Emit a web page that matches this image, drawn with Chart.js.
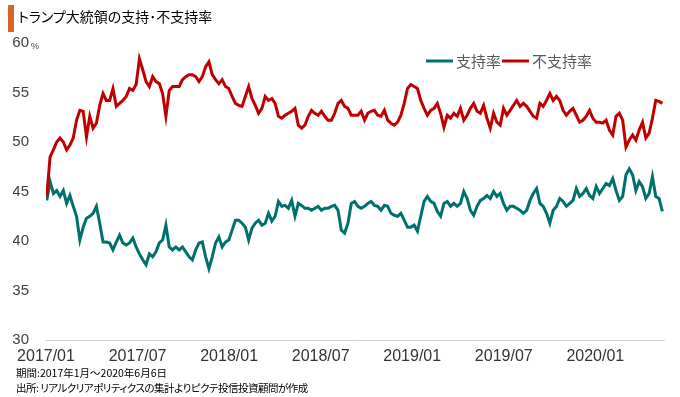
<!DOCTYPE html>
<html>
<head>
<meta charset="utf-8">
<script src="https://cdn.jsdelivr.net/npm/chart.js@4.4.1/dist/chart.umd.min.js"></script>
<style>
    body { margin: 0; background: #fff; }
    #wrap { position: relative; width: 680px; height: 397px; overflow: hidden; }
    #bar { position: absolute; left: 8px; top: 5px; width: 6px; height: 27px; background: #D9622B; }
    #title { position: absolute; left: 18px; top: 6px; line-height: 21px; font-size: 14px; color: #000;
             font-family: "Noto Sans CJK JP"; font-feature-settings: "palt"; white-space: nowrap; }
    .note { position: absolute; left: 16px; line-height: 14px; font-size: 10.5px; color: #000;
            font-family: "Noto Sans CJK JP"; font-feature-settings: "palt"; white-space: nowrap; }
    canvas { position: absolute; left: 0; top: 0; }
</style>
</head>
<body>
<div id="wrap">
    <canvas id="pollChart" width="680" height="397"></canvas>
    <div id="bar"></div>
    <div id="title">トランプ大統領の支持･不支持率</div>
    <div class="note" style="top:366px">期間:2017年1月～2020年6月6日</div>
    <div class="note" style="top:381px; letter-spacing:-0.5px">出所: リアルクリアポリティクスの集計よりピクテ投信投資顧問が作成</div>
</div>
<script>
// RCP average, read off the chart roughly once a week (2017/01 - 2020/06)
const seriesNames = ['支持率', '不支持率'];
const seriesColors = ['#00706C', '#C00000'];

const approve = [
    44.1, 46.0, 44.8, 45.1, 44.5, 45.1, 43.8, 44.6, 43.5, 42.5,
    40.1, 41.4, 42.3, 42.5, 42.8, 43.5, 41.8, 39.9, 39.9, 39.8,
    39.1, 39.9, 40.6, 39.8, 39.6, 39.8, 40.3, 39.4, 38.7, 38.1,
    37.6, 38.7, 38.4, 38.9, 39.8, 40.1, 41.6, 39.4, 39.1, 39.4,
    39.1, 39.4, 38.9, 38.4, 38.1, 39.1, 39.8,
    39.9, 38.4, 37.2, 38.4, 39.8, 40.4, 39.4, 39.9, 40.1, 41.1,
    42.1, 42.1, 41.8, 41.4, 40.1, 41.3, 41.8, 42.1, 41.6, 41.8,
    42.8, 42.0, 42.5, 44.0, 43.5, 43.6, 43.3, 44.1, 42.5, 43.8,
    43.6, 43.3, 43.3, 43.1, 43.3, 43.5, 43.1, 43.3, 43.3, 43.5,
    43.6, 43.1, 41.1, 40.8, 41.8, 43.8, 44.0,
    43.5, 43.3, 43.5, 43.8, 44.0, 43.6, 43.5, 43.1, 43.6, 43.5,
    42.8, 42.6, 42.5, 42.8, 42.1, 41.4, 41.4, 41.6, 41.0, 42.5,
    44.0, 44.5, 44.0, 43.8, 43.0, 42.5, 43.8, 44.0, 43.5, 43.8,
    43.5, 43.8, 45.0, 44.3, 43.1, 42.6, 43.5, 44.1, 44.3, 44.6,
    44.3, 45.0, 44.5, 44.8, 43.8, 43.1, 43.5,
    43.5, 43.3, 43.1, 42.8, 43.1, 44.1, 44.8, 45.3, 43.8, 43.5,
    42.8, 41.8, 43.1, 43.5, 44.3, 44.0, 43.5, 43.8, 44.1, 45.3,
    44.5, 44.8, 45.3, 44.6, 44.3, 45.5, 44.8, 45.3, 45.8, 45.6,
    46.3, 45.1, 44.1, 44.5, 46.7, 47.3, 46.7, 45.1, 46.0, 45.5,
    44.3, 44.8, 46.5, 44.5, 44.3, 43.0
];

const disapprove = [
    44.5, 48.5, 49.2, 50.0, 50.4, 50.0, 49.2, 49.7, 50.4, 52.2,
    53.2, 53.1, 50.5, 52.6, 51.4, 51.9, 53.7, 54.9, 54.2, 54.2,
    55.4, 53.6, 53.9, 54.2, 54.6, 55.4, 55.2, 55.8, 58.4, 57.3,
    56.1, 55.6, 56.6, 56.1, 55.9, 54.9, 52.6, 55.2, 55.6, 55.6,
    55.6, 56.3, 56.6, 56.8, 56.8, 56.6, 56.1,
    56.6, 57.6, 58.1, 56.8, 56.3, 55.9, 56.3, 55.6, 55.4, 54.6,
    53.9, 53.7, 53.6, 54.6, 55.6, 54.4, 53.7, 52.9, 53.4, 54.6,
    54.2, 54.4, 53.9, 52.6, 52.4, 52.7, 52.9, 53.1, 53.4, 51.7,
    51.4, 51.7, 52.6, 53.2, 52.9, 52.7, 53.1, 52.6, 52.2, 52.2,
    52.9, 53.9, 54.2, 53.6, 53.4, 52.7, 52.7,
    52.7, 53.1, 52.2, 52.9, 53.1, 53.2, 52.7, 52.6, 53.2, 52.2,
    51.9, 51.7, 52.0, 52.7, 53.9, 55.4, 55.8, 55.6, 55.4, 54.2,
    53.4, 52.7, 53.2, 53.4, 53.9, 52.9, 51.5, 52.7, 52.4, 52.9,
    52.6, 53.4, 52.2, 52.7, 53.4, 53.9, 53.1, 52.9, 53.7, 52.4,
    51.4, 52.9, 52.0, 51.7, 53.4, 52.7, 53.2,
    53.7, 54.2, 53.6, 53.9, 53.6, 53.1, 52.6, 52.4, 53.9, 53.6,
    54.2, 54.9, 54.2, 54.6, 54.2, 53.2, 52.7, 53.1, 53.4, 52.7,
    52.0, 52.2, 52.6, 53.2, 52.4, 52.0, 52.0, 51.9, 52.2, 51.2,
    50.7, 52.6, 52.9, 52.2, 49.5, 50.2, 50.7, 50.2, 51.2, 52.0,
    50.4, 50.9, 52.4, 54.2, 54.1, 53.9
];

// x axis is in months counted from 2017/01
const tickMonths = [0, 6, 12, 18, 24, 30, 36];
const tickLabels = ['2017/01', '2017/07', '2018/01', '2018/07', '2019/01', '2019/07', '2020/01'];
const yTicks = [30, 35, 40, 45, 50, 55, 60];
const sampleStart = 0.05;   // first sample, months
const sampleStep = 0.2169;  // months between samples

function toPoints(values) {
    return values.map((v, i) => ({ x: sampleStart + i * sampleStep, y: v }));
}

// legend drawn by hand so it can sit in the upper middle of the plot
const legendPlugin = {
    id: 'customLegend',
    afterDraw(chart) {
        const ctx = chart.ctx;
        const starts = [426, 502];
        ctx.save();
        ctx.font = '15px "Noto Sans CJK JP"';
        ctx.textBaseline = 'middle';
        ctx.lineWidth = 3;
        seriesNames.forEach((name, i) => {
            ctx.strokeStyle = seriesColors[i];
            ctx.beginPath();
            ctx.moveTo(starts[i], 61);
            ctx.lineTo(starts[i] + 27, 61);
            ctx.stroke();
            ctx.fillStyle = '#595959';
            ctx.fillText(name, starts[i] + 30, 61);
        });
        // small % next to the top tick
        const yTop = chart.scales.y.getPixelForValue(60);
        ctx.font = '9px "Liberation Sans"';
        ctx.textBaseline = 'alphabetic';
        ctx.fillStyle = '#404040';
        ctx.fillText('%', 31, yTop + 6);
        ctx.restore();
    }
};

const ctx = document.getElementById('pollChart').getContext('2d');
new Chart(ctx, {
    type: 'line',
    data: {
        datasets: [{
            label: seriesNames[0],
            data: toPoints(approve),
            borderColor: seriesColors[0],
            backgroundColor: seriesColors[0],
            borderWidth: 3,
            pointRadius: 0,
            order: 1
        }, {
            label: seriesNames[1],
            data: toPoints(disapprove),
            borderColor: seriesColors[1],
            backgroundColor: seriesColors[1],
            borderWidth: 3,
            pointRadius: 0,
            order: 0
        }]
    },
    options: {
        responsive: false,
        animation: false,
        layout: { padding: { left: 13, top: 43, right: 16, bottom: 0 } },
        scales: {
            x: {
                type: 'linear',
                min: 0,
                max: 40.5,
                afterBuildTicks: scale => { scale.ticks = tickMonths.map(v => ({ value: v })); },
                afterFit: scale => { scale.height = 57; },
                grid: { display: false, drawTicks: false },
                border: { display: true, color: '#d0d0d0', width: 1 },
                ticks: {
                    padding: 7,
                    maxRotation: 0,
                    autoSkip: false,
                    color: '#333',
                    font: { family: '"Liberation Sans"', size: 16 },
                    callback: value => tickLabels[tickMonths.indexOf(value)]
                }
            },
            y: {
                min: 30,
                max: 60,
                afterBuildTicks: scale => { scale.ticks = yTicks.map(v => ({ value: v })); },
                afterFit: scale => { scale.width = 33; },
                grid: { display: false, drawTicks: false },
                border: { display: false },
                ticks: {
                    padding: 17,
                    color: '#404040',
                    font: { family: '"Liberation Sans"', size: 15 }
                }
            }
        },
        plugins: {
            legend: { display: false },
            tooltip: { enabled: false }
        }
    },
    plugins: [legendPlugin]
});
</script>
</body>
</html>
